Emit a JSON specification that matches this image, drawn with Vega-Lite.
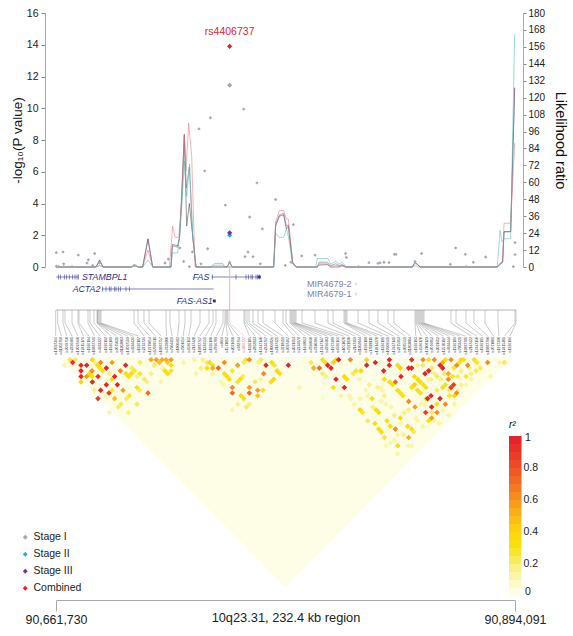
{
"$schema":"https://vega.github.io/schema/vega-lite/v6.json",
"padding":{"left":10,"top":8,"right":0,"bottom":0},
"config":{"font":"Liberation Sans","view":{"stroke":null},"axis":{"grid":false}},
"bounds":"flush","spacing":0,
"datasets":{
"snps":[
{"snp":"rs17097366","g":-0.15,"l":-0.15},{"snp":"rs11202718","g":0.85,"l":2.62},{"snp":"rs7069750","g":3.5,"l":5.39},{"snp":"rs2296601","g":4.5,"l":8.16},{"snp":"rs17097460","g":8,"l":10.93},{"snp":"rs12415176","g":11,"l":13.7},{"snp":"rs1926194","g":11.5,"l":16.47},{"snp":"rs10887741","g":16,"l":19.24},{"snp":"rs4933327","g":17,"l":22.01},{"snp":"rs1926192","g":19,"l":24.78},{"snp":"rs1926189","g":20.5,"l":27.55},{"snp":"rs7075031","g":20.75,"l":30.32},{"snp":"rs11203003","g":21,"l":33.09},{"snp":"rs17097519","g":21.5,"l":35.86},{"snp":"rs4934436","g":22,"l":38.63},{"snp":"rs1926187","g":22.5,"l":41.4},{"snp":"rs2274736","g":39,"l":44.17},{"snp":"rs12779054","g":41,"l":46.94},{"snp":"rs17097611","g":44,"l":49.71},{"snp":"rs10887757","g":46.5,"l":52.48},{"snp":"rs3739800","g":55,"l":55.25},{"snp":"rs7904419","g":57,"l":58.02},{"snp":"rs1800682","g":61.5,"l":60.79},{"snp":"rs7901656","g":64.5,"l":63.56},{"snp":"rs6586162","g":67.5,"l":66.33},{"snp":"rs2147420","g":72,"l":69.1},{"snp":"rs10887767","g":76.5,"l":71.87},{"snp":"rs1324551","g":78.5,"l":74.64},{"snp":"rs1926190","g":80,"l":77.41},{"snp":"rs7896789","g":83.5,"l":80.18},{"snp":"rs4064","g":84.5,"l":82.95},{"snp":"rs1571012","g":85,"l":85.72},{"snp":"rs2031610","g":85.5,"l":88.49},{"snp":"rs982764","g":86,"l":91.26},{"snp":"rs4406737","g":86.83,"l":94.03},
{"snp":"rs1926185","g":94,"l":96.8},{"snp":"rs2862833","g":94.5,"l":99.57},{"snp":"rs17447140","g":95.5,"l":102.34},{"snp":"rs2234767","g":96.5,"l":105.11},{"snp":"rs1800682b","g":98.5,"l":107.88},{"snp":"rs2147421","g":101,"l":110.65},{"snp":"rs3218619","g":103.5,"l":113.42},{"snp":"rs7097467","g":109.5,"l":116.19},{"snp":"rs2031613","g":113.5,"l":118.96},{"snp":"rs2234978","g":115,"l":121.73},{"snp":"rs1468063","g":117,"l":124.5},{"snp":"rs7896060","g":117.5,"l":127.27},{"snp":"rs3740286","g":118,"l":130.04},{"snp":"rs17447147","g":118.5,"l":132.81},{"snp":"rs2296603","g":119,"l":135.58},{"snp":"rs1977389","g":119.5,"l":138.35},{"snp":"rs6586166","g":120,"l":141.12},{"snp":"rs1051070","g":123,"l":143.89},{"snp":"rs7921830","g":129.5,"l":146.66},{"snp":"rs2147419","g":136,"l":149.43},{"snp":"rs11202844","g":138.5,"l":152.2},{"snp":"rs1926188","g":144,"l":154.97},{"snp":"rs17108111","g":144.5,"l":157.74},{"snp":"rs12414270","g":145,"l":160.51},{"snp":"rs1926191","g":145.5,"l":163.28},{"snp":"rs10509561","g":151,"l":166.05},{"snp":"rs17447141","g":156.5,"l":168.82},{"snp":"rs2275913","g":161,"l":171.59},{"snp":"rs7085551","g":166,"l":174.36},{"snp":"rs11203004","g":169,"l":177.13},{"snp":"rs1926193","g":179.5,"l":179.9},{"snp":"rs6586170","g":180,"l":182.67},{"snp":"rs17108129","g":180.5,"l":185.44},{"snp":"rs7076812","g":181,"l":188.21},{"snp":"rs2031612","g":181.5,"l":190.98},{"snp":"rs12570197","g":182,"l":193.75},{"snp":"rs4934444","g":182.5,"l":196.52},{"snp":"rs1926186","g":183,"l":199.29},{"snp":"rs7903421","g":183.5,"l":202.06},{"snp":"rs10887781","g":184,"l":204.83},{"snp":"rs2147422","g":197.5,"l":207.6},{"snp":"rs17447150","g":200,"l":210.37},{"snp":"rs1926195","g":205,"l":213.14},{"snp":"rs10887790","g":209,"l":215.91},{"snp":"rs7071001","g":214.5,"l":218.68},{"snp":"rs1977390","g":221,"l":221.45},{"snp":"rs12415301","g":229.5,"l":224.22},{"snp":"rs1926196","g":230,"l":226.99}
],
"stage":[
{"snp":"s","kb":0.17,"p":0.9,"stage":"Stage I"},{"snp":"s","kb":3.5,"p":0.95,"stage":"Stage I"},{"snp":"s","kb":0.17,"p":0.05,"stage":"Stage I"},{"snp":"s","kb":1.17,"p":0.03,"stage":"Stage I"},{"snp":"s","kb":3.83,"p":0.2,"stage":"Stage I"},{"snp":"s","kb":3.83,"p":0.02,"stage":"Stage I"},{"snp":"s","kb":8,"p":0.02,"stage":"Stage I"},{"snp":"s","kb":11.17,"p":0.75,"stage":"Stage I"},{"snp":"s","kb":15.5,"p":0.25,"stage":"Stage I"},{"snp":"s","kb":16.17,"p":0.45,"stage":"Stage I"},{"snp":"s","kb":18.33,"p":0.1,"stage":"Stage I"},{"snp":"s","kb":19.33,"p":0.85,"stage":"Stage I"},{"snp":"s","kb":21.83,"p":0.25,"stage":"Stage I"},{"snp":"s","kb":39.17,"p":0.1,"stage":"Stage I"},{"snp":"s","kb":54.5,"p":0.25,"stage":"Stage I"},{"snp":"s","kb":56.17,"p":0.5,"stage":"Stage I"},{"snp":"s","kb":62,"p":1.2,"stage":"Stage I"},{"snp":"s","kb":63.83,"p":0.35,"stage":"Stage I"},{"snp":"s","kb":66.67,"p":0.02,"stage":"Stage I"},{"snp":"s","kb":68.17,"p":0.95,"stage":"Stage I"},{"snp":"s","kb":71.5,"p":8.7,"stage":"Stage I"},{"snp":"s","kb":72.5,"p":0.2,"stage":"Stage I"},{"snp":"s","kb":74.33,"p":6.05,"stage":"Stage I"},{"snp":"s","kb":75.83,"p":1.15,"stage":"Stage I"},{"snp":"s","kb":77.17,"p":9.4,"stage":"Stage I"},{"snp":"s","kb":84.67,"p":3.9,"stage":"Stage I"},{"snp":"rs4406737","kb":86.83,"p":11.45,"stage":"Stage I"},{"snp":"s","kb":86.83,"p":0.3,"stage":"Stage I"},{"snp":"s","kb":93.83,"p":9.95,"stage":"Stage I"},{"snp":"s","kb":94.5,"p":0.65,"stage":"Stage I"},{"snp":"s","kb":96,"p":0.95,"stage":"Stage I"},{"snp":"s","kb":96.83,"p":3.15,"stage":"Stage I"},{"snp":"s","kb":98.5,"p":0.65,"stage":"Stage I"},{"snp":"s","kb":100.5,"p":5.3,"stage":"Stage I"},{"snp":"s","kb":102.17,"p":0.2,"stage":"Stage I"},{"snp":"s","kb":103.17,"p":2.4,"stage":"Stage I"},{"snp":"s","kb":109.83,"p":4.25,"stage":"Stage I"},{"snp":"s","kb":114.67,"p":0.1,"stage":"Stage I"},{"snp":"s","kb":117.5,"p":0.3,"stage":"Stage I"},{"snp":"s","kb":118.67,"p":2.67,"stage":"Stage I"},{"snp":"s","kb":122.83,"p":0.7,"stage":"Stage I"},{"snp":"s","kb":129.5,"p":0.75,"stage":"Stage I"},{"snp":"s","kb":144.83,"p":0.85,"stage":"Stage I"},{"snp":"s","kb":145.17,"p":0.6,"stage":"Stage I"},{"snp":"s","kb":151.33,"p":0.02,"stage":"Stage I"},{"snp":"s","kb":156.5,"p":0.27,"stage":"Stage I"},{"snp":"s","kb":161,"p":0.23,"stage":"Stage I"},{"snp":"s","kb":162,"p":0.26,"stage":"Stage I"},{"snp":"s","kb":164,"p":0.3,"stage":"Stage I"},{"snp":"s","kb":166.5,"p":0.28,"stage":"Stage I"},{"snp":"s","kb":169.17,"p":0.8,"stage":"Stage I"},{"snp":"s","kb":170,"p":0.8,"stage":"Stage I"},{"snp":"s","kb":179.5,"p":0.35,"stage":"Stage I"},{"snp":"s","kb":182.83,"p":0.85,"stage":"Stage I"},{"snp":"s","kb":197.17,"p":0.17,"stage":"Stage I"},{"snp":"s","kb":199.83,"p":1.2,"stage":"Stage I"},{"snp":"s","kb":204.67,"p":0.8,"stage":"Stage I"},{"snp":"s","kb":205.17,"p":0.02,"stage":"Stage I"},{"snp":"s","kb":208.67,"p":0.3,"stage":"Stage I"},{"snp":"s","kb":214.83,"p":0.63,"stage":"Stage I"},{"snp":"s","kb":228.67,"p":0.02,"stage":"Stage I"},{"snp":"s","kb":229.5,"p":1.53,"stage":"Stage I"},{"snp":"s","kb":229.5,"p":0.78,"stage":"Stage I"},
{"snp":"rs4406737","kb":86.83,"p":2.0,"stage":"Stage II"},{"snp":"rs4406737","kb":86.83,"p":2.15,"stage":"Stage III"},{"snp":"rs4406737","kb":86.83,"p":13.9,"stage":"Combined"}
],
"lr":[
{"s":"Stage I","kb":0,"lr":0},{"s":"Stage I","kb":20,"lr":0},{"s":"Stage I","kb":21.83,"lr":5},{"s":"Stage I","kb":23.5,"lr":0},{"s":"Stage I","kb":37.83,"lr":0},{"s":"Stage I","kb":39.17,"lr":1.7},{"s":"Stage I","kb":41.17,"lr":0},{"s":"Stage I","kb":43.33,"lr":0},{"s":"Stage I","kb":46,"lr":20},{"s":"Stage I","kb":48.33,"lr":0},{"s":"Stage I","kb":57.5,"lr":0},{"s":"Stage I","kb":58.17,"lr":16},{"s":"Stage I","kb":60.83,"lr":15},{"s":"Stage I","kb":61.67,"lr":20},{"s":"Stage I","kb":62.83,"lr":51},{"s":"Stage I","kb":64.17,"lr":94},{"s":"Stage I","kb":65.33,"lr":29},{"s":"Stage I","kb":66.67,"lr":45},{"s":"Stage I","kb":68.33,"lr":22},{"s":"Stage I","kb":70,"lr":0},{"s":"Stage I","kb":85.5,"lr":0},{"s":"Stage I","kb":86.83,"lr":3.4},{"s":"Stage I","kb":88.17,"lr":0},{"s":"Stage I","kb":108.83,"lr":0},{"s":"Stage I","kb":109.83,"lr":29},{"s":"Stage I","kb":111.67,"lr":36},{"s":"Stage I","kb":113.83,"lr":37},{"s":"Stage I","kb":115.17,"lr":27},{"s":"Stage I","kb":116.17,"lr":29},{"s":"Stage I","kb":118.33,"lr":3},{"s":"Stage I","kb":120,"lr":0},{"s":"Stage I","kb":130.67,"lr":0},{"s":"Stage I","kb":131.5,"lr":1.4},{"s":"Stage I","kb":135.67,"lr":1.7},{"s":"Stage I","kb":137.33,"lr":0},{"s":"Stage I","kb":141.5,"lr":0},{"s":"Stage I","kb":143.17,"lr":1.1},{"s":"Stage I","kb":144.83,"lr":0},{"s":"Stage I","kb":178.17,"lr":0},{"s":"Stage I","kb":179.5,"lr":3.4},{"s":"Stage I","kb":182,"lr":0},{"s":"Stage I","kb":220.67,"lr":0},{"s":"Stage I","kb":222.33,"lr":2},{"s":"Stage I","kb":223.33,"lr":4},{"s":"Stage I","kb":224,"lr":25},{"s":"Stage I","kb":227.33,"lr":25},{"s":"Stage I","kb":229.33,"lr":127},
{"s":"Stage III","kb":0,"lr":0},{"s":"Stage III","kb":20,"lr":0},{"s":"Stage III","kb":21.83,"lr":4.5},{"s":"Stage III","kb":23.5,"lr":0},{"s":"Stage III","kb":37.83,"lr":0},{"s":"Stage III","kb":39.17,"lr":1.5},{"s":"Stage III","kb":41.17,"lr":0},{"s":"Stage III","kb":43.33,"lr":0},{"s":"Stage III","kb":46,"lr":19.7},{"s":"Stage III","kb":48.33,"lr":0},{"s":"Stage III","kb":57.5,"lr":0},{"s":"Stage III","kb":58.17,"lr":15},{"s":"Stage III","kb":60.83,"lr":14},{"s":"Stage III","kb":61.83,"lr":22},{"s":"Stage III","kb":63,"lr":51},{"s":"Stage III","kb":64.17,"lr":93},{"s":"Stage III","kb":65.17,"lr":56},{"s":"Stage III","kb":66.67,"lr":71},{"s":"Stage III","kb":68.33,"lr":22},{"s":"Stage III","kb":70,"lr":0},{"s":"Stage III","kb":85.5,"lr":0},{"s":"Stage III","kb":86.83,"lr":3},{"s":"Stage III","kb":88.17,"lr":0},{"s":"Stage III","kb":108.83,"lr":0},{"s":"Stage III","kb":109.83,"lr":30},{"s":"Stage III","kb":111.67,"lr":37},{"s":"Stage III","kb":113.83,"lr":38},{"s":"Stage III","kb":115.17,"lr":29},{"s":"Stage III","kb":116.17,"lr":30},{"s":"Stage III","kb":118.33,"lr":3},{"s":"Stage III","kb":120,"lr":0},{"s":"Stage III","kb":130.67,"lr":0},{"s":"Stage III","kb":131.5,"lr":3.4},{"s":"Stage III","kb":135.67,"lr":3.4},{"s":"Stage III","kb":137.33,"lr":1},{"s":"Stage III","kb":139.83,"lr":2.3},{"s":"Stage III","kb":141.5,"lr":1},{"s":"Stage III","kb":143.17,"lr":1.7},{"s":"Stage III","kb":144.83,"lr":0},{"s":"Stage III","kb":178.17,"lr":0},{"s":"Stage III","kb":179.5,"lr":3.2},{"s":"Stage III","kb":182,"lr":0},{"s":"Stage III","kb":220.67,"lr":0},{"s":"Stage III","kb":222.33,"lr":3},{"s":"Stage III","kb":223.33,"lr":3},{"s":"Stage III","kb":224,"lr":25},{"s":"Stage III","kb":227.33,"lr":25},{"s":"Stage III","kb":229.33,"lr":127},
{"s":"Combined","kb":0,"lr":0},{"s":"Combined","kb":20,"lr":0},{"s":"Combined","kb":21.83,"lr":1},{"s":"Combined","kb":23.5,"lr":0},{"s":"Combined","kb":37.83,"lr":0},{"s":"Combined","kb":39.17,"lr":0.5},{"s":"Combined","kb":41.17,"lr":0},{"s":"Combined","kb":43.33,"lr":0},{"s":"Combined","kb":46,"lr":12},{"s":"Combined","kb":48.33,"lr":0},{"s":"Combined","kb":56.67,"lr":0},{"s":"Combined","kb":58.33,"lr":29},{"s":"Combined","kb":59.5,"lr":21},{"s":"Combined","kb":61.33,"lr":21},{"s":"Combined","kb":62.5,"lr":39},{"s":"Combined","kb":64.17,"lr":94},{"s":"Combined","kb":65,"lr":68},{"s":"Combined","kb":66.33,"lr":102},{"s":"Combined","kb":67.83,"lr":79},{"s":"Combined","kb":69.5,"lr":0},{"s":"Combined","kb":77.5,"lr":0},{"s":"Combined","kb":79.17,"lr":2.5},{"s":"Combined","kb":83.33,"lr":2.5},{"s":"Combined","kb":84.5,"lr":0},{"s":"Combined","kb":108.83,"lr":0},{"s":"Combined","kb":109.83,"lr":32},{"s":"Combined","kb":111.67,"lr":40},{"s":"Combined","kb":113.83,"lr":40},{"s":"Combined","kb":115.17,"lr":34},{"s":"Combined","kb":116.17,"lr":34},{"s":"Combined","kb":118.33,"lr":4},{"s":"Combined","kb":120,"lr":0},{"s":"Combined","kb":130.67,"lr":0},{"s":"Combined","kb":131.5,"lr":2.3},{"s":"Combined","kb":135.67,"lr":2.3},{"s":"Combined","kb":137.33,"lr":0.5},{"s":"Combined","kb":139.83,"lr":1},{"s":"Combined","kb":143.17,"lr":0.5},{"s":"Combined","kb":145,"lr":0},{"s":"Combined","kb":178.17,"lr":0},{"s":"Combined","kb":179.5,"lr":1},{"s":"Combined","kb":181,"lr":0},{"s":"Combined","kb":220.67,"lr":0},{"s":"Combined","kb":222.33,"lr":3},{"s":"Combined","kb":223.33,"lr":4},{"s":"Combined","kb":224,"lr":31},{"s":"Combined","kb":227.33,"lr":31},{"s":"Combined","kb":229.33,"lr":88},
{"s":"Stage II","kb":0,"lr":0},{"s":"Stage II","kb":20,"lr":0},{"s":"Stage II","kb":21.83,"lr":1},{"s":"Stage II","kb":23.5,"lr":0},{"s":"Stage II","kb":37.83,"lr":0},{"s":"Stage II","kb":39.17,"lr":1},{"s":"Stage II","kb":41.17,"lr":0},{"s":"Stage II","kb":43.33,"lr":0},{"s":"Stage II","kb":46,"lr":5},{"s":"Stage II","kb":48.33,"lr":0},{"s":"Stage II","kb":57.5,"lr":0},{"s":"Stage II","kb":58.17,"lr":10},{"s":"Stage II","kb":60.83,"lr":10},{"s":"Stage II","kb":61.83,"lr":22},{"s":"Stage II","kb":63,"lr":45},{"s":"Stage II","kb":64.17,"lr":75},{"s":"Stage II","kb":65.33,"lr":50},{"s":"Stage II","kb":66.83,"lr":73},{"s":"Stage II","kb":68.33,"lr":22},{"s":"Stage II","kb":70,"lr":0},{"s":"Stage II","kb":77.5,"lr":0},{"s":"Stage II","kb":79.17,"lr":1.3},{"s":"Stage II","kb":83.33,"lr":1.3},{"s":"Stage II","kb":84.5,"lr":0},{"s":"Stage II","kb":108.83,"lr":0},{"s":"Stage II","kb":109.83,"lr":24},{"s":"Stage II","kb":111.67,"lr":21},{"s":"Stage II","kb":113.83,"lr":21},{"s":"Stage II","kb":115.17,"lr":27},{"s":"Stage II","kb":116.17,"lr":22},{"s":"Stage II","kb":118.33,"lr":2},{"s":"Stage II","kb":120,"lr":0},{"s":"Stage II","kb":129.83,"lr":0},{"s":"Stage II","kb":130.67,"lr":6},{"s":"Stage II","kb":136,"lr":6},{"s":"Stage II","kb":137.33,"lr":2},{"s":"Stage II","kb":139.83,"lr":4},{"s":"Stage II","kb":141.5,"lr":2},{"s":"Stage II","kb":143.17,"lr":3.4},{"s":"Stage II","kb":144.83,"lr":0.5},{"s":"Stage II","kb":145.67,"lr":0},{"s":"Stage II","kb":178.17,"lr":0},{"s":"Stage II","kb":179.5,"lr":3},{"s":"Stage II","kb":182.67,"lr":0},{"s":"Stage II","kb":220.67,"lr":0},{"s":"Stage II","kb":222,"lr":26},{"s":"Stage II","kb":223,"lr":18},{"s":"Stage II","kb":224,"lr":20},{"s":"Stage II","kb":227.33,"lr":20},{"s":"Stage II","kb":229.33,"lr":165}
],
"ld":[
{"kb":8.33,"d":2,"r":0.9},{"kb":12.5,"d":3,"r":0.95},{"kb":15.33,"d":3,"r":0.95},{"kb":12.5,"d":5,"r":0.95},{"kb":12.5,"d":7,"r":0.95},{"kb":15.33,"d":7,"r":0.55},{"kb":18,"d":5,"r":0.6},{"kb":25.17,"d":4,"r":0.95},{"kb":21,"d":7,"r":0.9},{"kb":18.17,"d":9,"r":0.98},{"kb":29.33,"d":7,"r":0.95},{"kb":22.33,"d":12,"r":0.95},{"kb":25.17,"d":10,"r":0.95},{"kb":30.67,"d":10,"r":0.95},{"kb":26.5,"d":13,"r":0.85},{"kb":21,"d":15,"r":0.85},{"kb":34.83,"d":3,"r":0.95},{"kb":22.33,"d":2,"r":0.6},{"kb":28,"d":2,"r":0.55},{"kb":32.17,"d":5,"r":0.6},{"kb":33.5,"d":12,"r":0.55},{"kb":29.33,"d":15,"r":0.45},{"kb":46,"d":13,"r":0.7},
{"kb":18.17,"d":1,"r":0.35},{"kb":7,"d":1,"r":0.25},{"kb":4.17,"d":3,"r":0.1},{"kb":9.67,"d":1,"r":0.2},{"kb":20.83,"d":3,"r":0.3},{"kb":19.5,"d":2,"r":0.15},{"kb":23.33,"d":5,"r":0.3},{"kb":22,"d":4,"r":0.3},{"kb":12.5,"d":9,"r":0.35},{"kb":16.67,"d":6,"r":0.3},{"kb":18,"d":7,"r":0.3},{"kb":28,"d":8,"r":0.3},{"kb":26.67,"d":6,"r":0.15},{"kb":35,"d":6,"r":0.3},{"kb":36.33,"d":7,"r":0.3},{"kb":37.67,"d":6,"r":0.35},{"kb":39.17,"d":5,"r":0.25},{"kb":37.83,"d":4,"r":0.2},{"kb":40.5,"d":7,"r":0.15},{"kb":42,"d":6,"r":0.25},{"kb":40.5,"d":11,"r":0.3},{"kb":41.83,"d":12,"r":0.2},{"kb":44.17,"d":8,"r":0.2},{"kb":45.5,"d":9,"r":0.15},{"kb":36.67,"d":14,"r":0.25},{"kb":35.17,"d":15,"r":0.2},{"kb":32.5,"d":17,"r":0.2},{"kb":31.17,"d":18,"r":0.2},{"kb":40.5,"d":17,"r":0.2},{"kb":36.33,"d":20,"r":0.15},{"kb":19.17,"d":12,"r":0.15},{"kb":25,"d":14,"r":0.1},{"kb":26.67,"d":20,"r":0.1},{"kb":28,"d":12,"r":0.25},{"kb":42,"d":2,"r":0.2},
{"kb":47.5,"d":1,"r":0.5},{"kb":50.17,"d":1,"r":0.55},{"kb":53,"d":1,"r":0.5},{"kb":55,"d":1,"r":0.5},{"kb":51.67,"d":2,"r":0.45},{"kb":55.83,"d":2,"r":0.4},{"kb":49.17,"d":3,"r":0.2},{"kb":54.5,"d":5,"r":0.3},{"kb":55.83,"d":6,"r":0.3},{"kb":53.33,"d":4,"r":0.1},{"kb":47.5,"d":6,"r":0.15},{"kb":52.5,"d":9,"r":0.1},{"kb":57.5,"d":1,"r":0.55},
{"kb":105,"d":3,"r":0.95},{"kb":116.17,"d":3,"r":0.95},{"kb":84.17,"d":2,"r":0.6},{"kb":96.67,"d":1,"r":0.6},{"kb":81.17,"d":4,"r":0.7},{"kb":78.33,"d":4,"r":0.5},{"kb":90.83,"d":3,"r":0.55},{"kb":103.83,"d":6,"r":0.6},{"kb":88.17,"d":11,"r":0.6},{"kb":88.17,"d":13,"r":0.7},{"kb":96.67,"d":11,"r":0.55},{"kb":96.67,"d":13,"r":0.7},{"kb":100.83,"d":12,"r":0.55},{"kb":100.83,"d":14,"r":0.45},
{"kb":57.5,"d":3,"r":0.3},{"kb":57.5,"d":5,"r":0.25},{"kb":63.83,"d":2,"r":0.1},{"kb":69.17,"d":1,"r":0.1},{"kb":73.33,"d":1,"r":0.15},{"kb":72.5,"d":4,"r":0.15},{"kb":75.5,"d":4,"r":0.3},{"kb":76.83,"d":2,"r":0.35},{"kb":78.33,"d":3,"r":0.3},{"kb":75.5,"d":2,"r":0.2},{"kb":70,"d":6,"r":0.1},{"kb":78.33,"d":6,"r":0.1},{"kb":84.17,"d":6,"r":0.3},{"kb":85.5,"d":7,"r":0.3},{"kb":86.67,"d":8,"r":0.3},{"kb":88.17,"d":5,"r":0.25},{"kb":82.5,"d":9,"r":0.1},{"kb":83.83,"d":10,"r":0.1},{"kb":90.83,"d":9,"r":0.25},{"kb":92.17,"d":8,"r":0.3},{"kb":93.5,"d":7,"r":0.2},{"kb":92.5,"d":14,"r":0.3},{"kb":93.83,"d":15,"r":0.3},{"kb":96.67,"d":17,"r":0.15},{"kb":95.17,"d":18,"r":0.2},{"kb":90.83,"d":17,"r":0.15},{"kb":88.17,"d":19,"r":0.1},{"kb":103.5,"d":12,"r":0.3},{"kb":99.5,"d":9,"r":0.2},{"kb":102.17,"d":8,"r":0.1},{"kb":107.5,"d":9,"r":0.3},{"kb":108.83,"d":8,"r":0.35},{"kb":109.17,"d":3,"r":0.25},{"kb":110.5,"d":5,"r":0.35},{"kb":111.83,"d":6,"r":0.3},{"kb":107.83,"d":2,"r":0.3},{"kb":102.5,"d":1,"r":0.2},{"kb":101.17,"d":2,"r":0.15},{"kb":93.83,"d":2,"r":0.2},{"kb":121.67,"d":11,"r":0.1},{"kb":95,"d":1,"r":0.25},
{"kb":141.33,"d":1,"r":0.95},{"kb":147.17,"d":1,"r":0.6},{"kb":135.83,"d":3,"r":0.95},{"kb":137.5,"d":4,"r":0.95},{"kb":131.67,"d":4,"r":0.7},{"kb":128.83,"d":4,"r":0.5},{"kb":140,"d":8,"r":0.95},{"kb":144.17,"d":11,"r":0.95},{"kb":155.33,"d":3,"r":0.95},{"kb":159.67,"d":2,"r":0.95},{"kb":166.67,"d":1,"r":0.95},{"kb":166.67,"d":3,"r":0.95},{"kb":163.83,"d":5,"r":0.95},{"kb":155.33,"d":1,"r":0.35},{"kb":172.5,"d":7,"r":0.95},{"kb":176.33,"d":4,"r":0.95},{"kb":169.67,"d":9,"r":0.7},{"kb":176.33,"d":16,"r":0.6},{"kb":169.67,"d":26,"r":0.6},{"kb":176.33,"d":29,"r":0.5},
{"kb":127.5,"d":2,"r":0.2},{"kb":133.33,"d":1,"r":0.3},{"kb":134.67,"d":2,"r":0.3},{"kb":138.67,"d":2,"r":0.4},{"kb":140,"d":1,"r":0.35},{"kb":133.33,"d":6,"r":0.2},{"kb":135,"d":7,"r":0.15},{"kb":138.67,"d":11,"r":0.3},{"kb":144.17,"d":7,"r":0.35},{"kb":145.5,"d":8,"r":0.3},{"kb":148.67,"d":6,"r":0.2},{"kb":150,"d":5,"r":0.25},{"kb":152.5,"d":5,"r":0.35},{"kb":151.67,"d":8,"r":0.1},{"kb":156.67,"d":10,"r":0.15},{"kb":158,"d":15,"r":0.3},{"kb":162.5,"d":11,"r":0.1},{"kb":164.17,"d":8,"r":0.3},{"kb":166.83,"d":9,"r":0.3},{"kb":168.33,"d":10,"r":0.3},{"kb":170.83,"d":12,"r":0.3},{"kb":172.17,"d":13,"r":0.3},{"kb":173.5,"d":14,"r":0.3},{"kb":172.17,"d":4,"r":0.4},{"kb":170.83,"d":3,"r":0.35},{"kb":152,"d":15,"r":0.1},{"kb":152,"d":19,"r":0.35},{"kb":153.33,"d":20,"r":0.25},{"kb":160,"d":19,"r":0.3},{"kb":161.33,"d":20,"r":0.3},{"kb":158.33,"d":18,"r":0.15},{"kb":165,"d":17,"r":0.1},{"kb":172.17,"d":22,"r":0.35},{"kb":165.5,"d":23,"r":0.3},{"kb":159.5,"d":24,"r":0.3},{"kb":155.83,"d":23,"r":0.2},{"kb":161.33,"d":26,"r":0.3},{"kb":162.67,"d":27,"r":0.3},{"kb":164.17,"d":29,"r":0.25},{"kb":167.17,"d":25,"r":0.3},{"kb":167.17,"d":31,"r":0.1},{"kb":170.83,"d":32,"r":0.3},{"kb":170.83,"d":35,"r":0.1},{"kb":173.67,"d":28,"r":0.15},{"kb":170.83,"d":28,"r":0.1},{"kb":133.33,"d":15,"r":0.05},{"kb":146.67,"d":14,"r":0.1},{"kb":149.17,"d":17,"r":0.1},{"kb":142.5,"d":14,"r":0.1},{"kb":176.33,"d":19,"r":0.15},{"kb":175.83,"d":25,"r":0.35},{"kb":176.33,"d":32,"r":0.1},
{"kb":160.83,"d":11,"r":0.15},{"kb":163.33,"d":12,"r":0.12},{"kb":155,"d":12,"r":0.1},{"kb":147.5,"d":15,"r":0.1},{"kb":162.5,"d":16,"r":0.1},{"kb":167.5,"d":18,"r":0.1},{"kb":169.17,"d":21,"r":0.15},{"kb":174.17,"d":20,"r":0.15},{"kb":155.83,"d":14,"r":0.1},{"kb":164.17,"d":14,"r":0.15},{"kb":172.5,"d":24,"r":0.1},{"kb":169.17,"d":30,"r":0.1},{"kb":165,"d":32,"r":0.1},
{"kb":183.5,"d":1,"r":0.6},{"kb":189.17,"d":1,"r":0.6},{"kb":197.5,"d":1,"r":0.6},{"kb":215.83,"d":2,"r":0.6},{"kb":177.83,"d":1,"r":0.9},{"kb":192,"d":3,"r":0.95},{"kb":193.33,"d":4,"r":0.95},{"kb":186.33,"d":5,"r":0.95},{"kb":184.5,"d":6,"r":0.95},{"kb":200.33,"d":3,"r":0.6},{"kb":205.83,"d":3,"r":0.6},{"kb":196.17,"d":6,"r":0.5},{"kb":196.17,"d":8,"r":0.6},{"kb":198.83,"d":10,"r":0.85},{"kb":197.5,"d":11,"r":0.85},{"kb":200.33,"d":13,"r":0.6},{"kb":187.5,"d":14,"r":0.95},{"kb":185.83,"d":15,"r":0.95},{"kb":192,"d":15,"r":0.95},{"kb":187.83,"d":18,"r":0.95},{"kb":194.67,"d":17,"r":0.6},{"kb":190.5,"d":20,"r":0.6},{"kb":184.83,"d":20,"r":0.85},{"kb":187.83,"d":22,"r":0.55},{"kb":179.5,"d":18,"r":0.55},{"kb":177.83,"d":4,"r":0.95},
{"kb":193.33,"d":2,"r":0.5},{"kb":186.33,"d":1,"r":0.3},{"kb":194.67,"d":1,"r":0.3},{"kb":202.5,"d":1,"r":0.35},{"kb":203.83,"d":1,"r":0.3},{"kb":201.67,"d":2,"r":0.3},{"kb":209.17,"d":1,"r":0.3},{"kb":210.5,"d":2,"r":0.25},{"kb":212.17,"d":4,"r":0.2},{"kb":221.67,"d":2,"r":0.1},{"kb":224.17,"d":2,"r":0.2},{"kb":217.17,"d":7,"r":0.1},{"kb":207.5,"d":6,"r":0.15},{"kb":205,"d":7,"r":0.25},{"kb":210,"d":5,"r":0.2},{"kb":198.83,"d":4,"r":0.25},{"kb":179.17,"d":7,"r":0.35},{"kb":180.83,"d":8,"r":0.35},{"kb":182.17,"d":9,"r":0.35},{"kb":183.67,"d":10,"r":0.3},{"kb":185,"d":11,"r":0.3},{"kb":179.17,"d":10,"r":0.4},{"kb":177.83,"d":11,"r":0.3},{"kb":180.83,"d":12,"r":0.3},{"kb":182.17,"d":13,"r":0.3},{"kb":185,"d":15,"r":0.3},{"kb":193.33,"d":11,"r":0.3},{"kb":194.67,"d":10,"r":0.3},{"kb":190.5,"d":12,"r":0.2},{"kb":190.5,"d":7,"r":0.2},{"kb":187.5,"d":8,"r":0.15},{"kb":200.83,"d":7,"r":0.2},{"kb":202.5,"d":10,"r":0.15},{"kb":196.67,"d":14,"r":0.25},{"kb":199.17,"d":14,"r":0.35},{"kb":190.5,"d":17,"r":0.3},{"kb":187.83,"d":20,"r":0.2},{"kb":186.33,"d":23,"r":0.3},{"kb":196.33,"d":21,"r":0.1},{"kb":180.83,"d":23,"r":0.1},{"kb":177.83,"d":26,"r":0.3},{"kb":178.83,"d":27,"r":0.2},{"kb":177.83,"d":32,"r":0.1},{"kb":191.67,"d":24,"r":0.1},
{"kb":180.83,"d":3,"r":0.15},{"kb":183.33,"d":3,"r":0.2},{"kb":187.83,"d":4,"r":0.2},{"kb":189.17,"d":6,"r":0.15},{"kb":185.83,"d":8,"r":0.1},{"kb":192.5,"d":8,"r":0.15},{"kb":194.17,"d":6,"r":0.2},{"kb":202.5,"d":5,"r":0.15},{"kb":206.67,"d":4,"r":0.15},{"kb":205,"d":10,"r":0.1},{"kb":207.5,"d":8,"r":0.1},{"kb":198.33,"d":7,"r":0.25},{"kb":200.83,"d":12,"r":0.15},{"kb":196.67,"d":12,"r":0.2},{"kb":182.5,"d":17,"r":0.1},{"kb":184.17,"d":17,"r":0.1},{"kb":193.33,"d":19,"r":0.1},{"kb":199.17,"d":17,"r":0.1},{"kb":180,"d":22,"r":0.1},{"kb":189.17,"d":23,"r":0.1},{"kb":183.33,"d":25,"r":0.1}
]
},
"vconcat":[
{"width":466,"height":254,
"layer":[
{"data":{"name":"lr"},"transform":[{"filter":"datum.s!=='Stage II'"}],"mark":{"type":"line","strokeWidth":0.55,"interpolate":"linear"},
"encoding":{"x":{"field":"kb","type":"quantitative","scale":{"domain":[0,233]},"axis":null},
"y":{"field":"lr","type":"quantitative","scale":{"domain":[0,180],"nice":false},
"axis":{"orient":"right","offset":1,"values":[0,12,24,36,48,60,72,84,96,108,120,132,144,156,168,180],"domainColor":"#aaaaaa","tickColor":"#888888","tickSize":3,"labelFontSize":10,"labelColor":"#222222","labelPadding":2,"title":"Likelihood ratio","titleFontSize":14.5,"titleFontWeight":"normal","titleColor":"#111111","titleAngle":90,"titlePadding":8}},
"stroke":{"field":"s","type":"nominal","legend":null,"scale":{"domain":["Stage I","Stage III","Combined"],"range":["#444444","#7b5c8e","#e8747c"]}},
"detail":{"field":"s"}}},
{"data":{"name":"lr"},"transform":[{"filter":"datum.s==='Stage II'"}],"mark":{"type":"line","strokeWidth":0.55,"color":"#4dbdb0"},
"encoding":{"x":{"field":"kb","type":"quantitative","scale":{"domain":[0,233]},"axis":null},
"y":{"field":"lr","type":"quantitative","scale":{"domain":[0,180],"nice":false},"axis":null}}},
{"data":{"name":"stage"},"mark":{"type":"point","shape":"diamond","filled":true,"opacity":1},
"encoding":{"x":{"field":"kb","type":"quantitative","scale":{"domain":[0,233]},"axis":null},
"y":{"field":"p","type":"quantitative","scale":{"domain":[0,16],"nice":false},
"axis":{"orient":"left","offset":11,"values":[0,2,4,6,8,10,12,14,16],"domainColor":"#aaaaaa","tickColor":"#888888","tickSize":4,"labelFontSize":10.5,"labelColor":"#222222","labelPadding":3,"title":"-log₁₀(P value)","titleFontSize":13.5,"titleFontWeight":"normal","titleColor":"#111111","titlePadding":2}},
"fill":{"field":"stage","type":"nominal","scale":{"domain":["Stage I","Stage II","Stage III","Combined"],"range":["#a8a8a8","#29abe2","#7030a0","#ed1c24"]},
"legend":{"orient":"none","legendX":-36,"legendY":519,"title":null,"symbolType":"diamond","symbolSize":24,"labelFontSize":10.5,"labelColor":"#222222","rowPadding":6,"labelOffset":3,"symbolOpacity":1}},
"size":{"condition":{"test":"datum.snp==='rs4406737'","value":26},"value":11}}},
{"data":{"name":"stage"},"transform":[{"filter":"datum.stage==='Combined'"}],"mark":{"type":"text","color":"#e2262c","fontSize":10.5,"dy":-14},
"encoding":{"x":{"field":"kb","type":"quantitative","scale":{"domain":[0,233]},"axis":null},
"y":{"field":"p","type":"quantitative","scale":{"domain":[0,16],"nice":false},"axis":null},
"text":{"field":"snp"}}}
],
"resolve":{"scale":{"y":"independent","fill":"independent"}}},
{"width":466,"height":43,
"layer":[
{"data":{"values":[{"gene":"STAMBPL1","a":0.17,"b":11.17,"t":1},{"gene":"ACTA2","a":23,"b":78.83,"t":2},{"gene":"FAS","a":77.83,"b":101.67,"t":1}]},
"mark":{"type":"rule","color":"#2e3192","strokeWidth":0.6},
"encoding":{"x":{"field":"a","type":"quantitative","scale":{"domain":[0,233]},"axis":null},"x2":{"field":"b"},
"y":{"field":"t","type":"quantitative","scale":{"domain":[0.1667,3.75],"reverse":true},"axis":null}}},
{"data":{"values":[{"k":1.17,"t":1},{"k":2.17,"t":1},{"k":4.17,"t":1},{"k":5.33,"t":1},{"k":6.67,"t":1},{"k":8.33,"t":1},{"k":9.5,"t":1},{"k":10.5,"t":1},{"k":11.17,"t":1},{"k":23.33,"t":2},{"k":25,"t":2},{"k":26.67,"t":2},{"k":27.5,"t":2},{"k":29.17,"t":2},{"k":30,"t":2},{"k":31.17,"t":2},{"k":32.17,"t":2},{"k":35,"t":2},{"k":36.67,"t":2},{"k":78.17,"t":1},{"k":90,"t":1},{"k":95,"t":1},{"k":96.17,"t":1},{"k":97.5,"t":1},{"k":98.33,"t":1},{"k":100,"t":1},{"k":100.83,"t":1},{"k":101.67,"t":1}]},
"mark":{"type":"tick","orient":"vertical","color":"#2e3192","size":5,"thickness":0.8},
"encoding":{"x":{"field":"k","type":"quantitative","scale":{"domain":[0,233]},"axis":null},
"y":{"field":"t","type":"quantitative","scale":{"domain":[0.1667,3.75],"reverse":true},"axis":null}}},
{"data":{"values":[{"k":101.67,"t":1},{"k":79.17,"t":3}]},
"mark":{"type":"square","color":"#2e3192","size":8,"opacity":1},
"encoding":{"x":{"field":"k","type":"quantitative","scale":{"domain":[0,233]},"axis":null},
"y":{"field":"t","type":"quantitative","scale":{"domain":[0.1667,3.75],"reverse":true},"axis":null}}},
{"data":{"values":[{"k":150,"t":1.583},{"k":150,"t":2.417}]},
"mark":{"type":"tick","orient":"vertical","color":"#7b7fb8","size":3,"thickness":0.6},
"encoding":{"x":{"field":"k","type":"quantitative","scale":{"domain":[0,233]},"axis":null},
"y":{"field":"t","type":"quantitative","scale":{"domain":[0.1667,3.75],"reverse":true},"axis":null}}},
{"data":{"values":[{"label":"STAMBPL1","k":13,"t":1}]},
"mark":{"type":"text","align":"left","fontStyle":"italic","fontSize":8.8,"color":"#2e3192"},
"encoding":{"x":{"field":"k","type":"quantitative","scale":{"domain":[0,233]},"axis":null},
"y":{"field":"t","type":"quantitative","scale":{"domain":[0.1667,3.75],"reverse":true},"axis":null},"text":{"field":"label"}}},
{"data":{"values":[{"label":"ACTA2","k":22.17,"t":2},{"label":"FAS","k":76.67,"t":1},{"label":"FAS-AS1","k":78.33,"t":3}]},
"mark":{"type":"text","align":"right","fontStyle":"italic","fontSize":8.8,"color":"#2e3192"},
"encoding":{"x":{"field":"k","type":"quantitative","scale":{"domain":[0,233]},"axis":null},
"y":{"field":"t","type":"quantitative","scale":{"domain":[0.1667,3.75],"reverse":true},"axis":null},"text":{"field":"label"}}},
{"data":{"values":[{"label":"MIR4679-2","k":125.5,"t":1.583},{"label":"MIR4679-1","k":125.5,"t":2.417}]},
"mark":{"type":"text","align":"left","fontSize":9,"color":"#7b7fb8"},
"encoding":{"x":{"field":"k","type":"quantitative","scale":{"domain":[0,233]},"axis":null},
"y":{"field":"t","type":"quantitative","scale":{"domain":[0.1667,3.75],"reverse":true},"axis":null},"text":{"field":"label"}}},
{"data":{"values":[{"k":86.83}]},"mark":{"type":"rule","color":"#f4a6ab","strokeWidth":0.9},
"encoding":{"x":{"field":"k","type":"quantitative","scale":{"domain":[0,233]},"axis":null}}}
]},
{"width":466,"height":47,
"layer":[
{"data":{"values":[{"a":0,"b":230}]},"mark":{"type":"rule","color":"#888888","strokeWidth":0.6},
"encoding":{"x":{"field":"a","type":"quantitative","scale":{"domain":[0,233]},"axis":null},"x2":{"field":"b"},"y":{"datum":0,"scale":{"domain":[0,3.6],"reverse":true},"axis":null}}},
{"data":{"name":"snps"},"mark":{"type":"rule","strokeWidth":0.45},
"encoding":{"x":{"field":"g","type":"quantitative","scale":{"domain":[0,233]},"axis":null},
"y":{"datum":0,"scale":{"domain":[0,3.6],"reverse":true},"axis":null},"y2":{"datum":1},
"color":{"condition":{"test":"datum.snp==='rs4406737'","value":"#f4a6ab"},"value":"#8a8a8a"}}},
{"data":{"name":"snps"},"mark":{"type":"rule","strokeWidth":0.45},
"encoding":{"x":{"field":"g","type":"quantitative","scale":{"domain":[0,233]},"axis":null},"x2":{"field":"l"},
"y":{"datum":1,"scale":{"domain":[0,3.6],"reverse":true},"axis":null},"y2":{"datum":2},
"color":{"condition":{"test":"datum.snp==='rs4406737'","value":"#f4a6ab"},"value":"#8a8a8a"}}},
{"data":{"name":"snps"},"mark":{"type":"text","angle":270,"align":"right","baseline":"middle","fontSize":3.4},
"encoding":{"x":{"field":"l","type":"quantitative","scale":{"domain":[0,233]},"axis":null},
"y":{"datum":2.08,"scale":{"domain":[0,3.6],"reverse":true},"axis":null},"text":{"field":"snp"},
"color":{"condition":{"test":"datum.snp==='rs4406737'","value":"#ef6a70"},"value":"#333333"}}}
]},
{"width":466,"height":233,
"layer":[
{"data":{"values":[{"kb":1,"d":0},{"kb":114.5,"d":83},{"kb":228,"d":0}]},
"mark":{"type":"area","color":"#fefde6","opacity":1},
"encoding":{"x":{"field":"kb","type":"quantitative","scale":{"domain":[0,233]},"axis":null},
"y":{"field":"d","type":"quantitative","scale":{"domain":[0,84],"reverse":true},"axis":null},
"y2":{"datum":0}}},
{"data":{"name":"ld"},"mark":{"type":"point","shape":"diamond","filled":true,"opacity":1,"size":31,"strokeWidth":0},
"encoding":{"x":{"field":"kb","type":"quantitative","scale":{"domain":[0,233]},"axis":null},
"y":{"field":"d","type":"quantitative","scale":{"domain":[0,84],"reverse":true},"axis":null},
"order":{"field":"r"},
"fill":{"field":"r","type":"quantitative","scale":{"type":"quantize","domain":[0,1],"range":["#fefde6","#fdfac6","#fbf5a8","#f9f088","#f8ea5c","#f7e62a","#f8e00c","#fcd80e","#ffce12","#fdbe16","#fbad19","#f99c1c","#f78b1f","#f47a22","#f16824","#ee5726","#ec4a27","#ea3d28","#e82f29","#e6232a"]},
"legend":{"type":"gradient","orient":"none","legendX":453,"legendY":407,"title":"r²","titleFontStyle":"italic","titleFontSize":10,"titleFontWeight":"normal","titleAnchor":"start","titlePadding":6,"gradientThickness":12.5,"gradientLength":160,"labelFontSize":10.5,"labelColor":"#222222","labelOverlap":false,"labelOffset":2,"gradientStrokeWidth":0,"labelExpr":"(round(datum.value*100)%20===0)?format(datum.value,'.1~f'):''"}}}},
{"data":{"values":[{"tick":"1","d":29.2},{"tick":"0","d":84.8}]},
"mark":{"type":"text","align":"left","baseline":"middle","fontSize":10.5,"color":"#222222"},
"encoding":{"x":{"datum":234.5,"type":"quantitative","scale":{"domain":[0,233]},"axis":null},
"y":{"field":"d","type":"quantitative","scale":{"domain":[0,84],"reverse":true},"axis":null},
"text":{"field":"tick"}}}
]},
{"width":459,"height":10,
"data":{"values":[{"pos":90661730},{"pos":90894091}]},
"mark":{"type":"point","opacity":0},
"encoding":{"x":{"field":"pos","type":"quantitative","scale":{"domain":[90661730,90894091],"nice":false,"zero":false},
"axis":{"orient":"bottom","values":[90661730,90894091],"format":",.0f","grid":false,"domainColor":"#aaaaaa","tickColor":"#aaaaaa","tickSize":11,"labelFontSize":12.4,"labelColor":"#222222","labelFlush":false,"labelPadding":2,"title":"10q23.31, 232.4 kb region","titleFontSize":12.8,"titleFontWeight":"normal","titleColor":"#222222","titlePadding":-14}}}}
]
}
